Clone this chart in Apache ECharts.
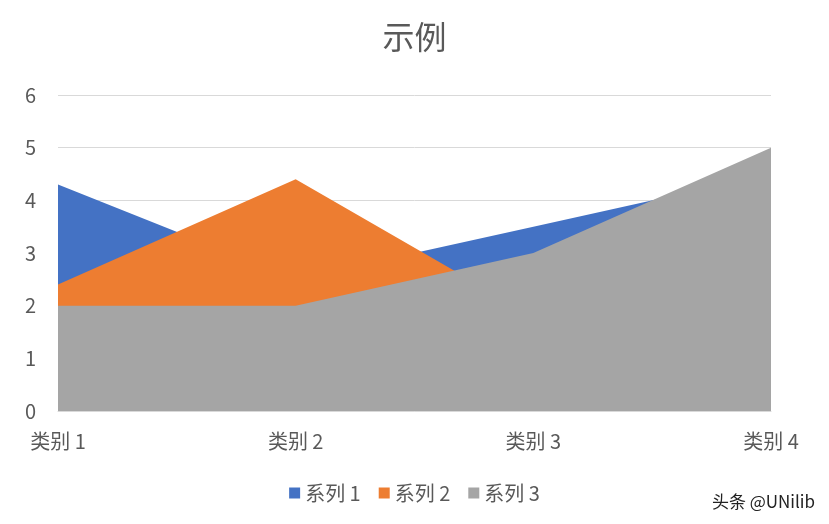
<!DOCTYPE html>
<html><head><meta charset="utf-8">
<script src="https://cdn.jsdelivr.net/npm/echarts@6/dist/echarts.min.js"></script>
<style>html,body{margin:0;padding:0;background:#fff}#main{width:829px;height:524px}</style>
</head><body><div id="main"></div>
<script>
var categories = ['类别 1', '类别 2', '类别 3', '类别 4'];
var series1 = [4.3, 2.5, 3.5, 4.5];
var series2 = [2.4, 4.4, 1.8, 2.8];
var series3 = [2, 2, 3, 5];
var names = ['系列 1', '系列 2', '系列 3'];
var colors = ['#4472C4', '#ED7D31', '#A5A5A5'];

var font = '"Noto Sans CJK SC", sans-serif';
var myChart = echarts.init(document.getElementById('main'));
function mk(i, data) {
  return {
    name: names[i], type: 'line', data: data, symbol: 'none',
    lineStyle: { width: 0 }, areaStyle: { color: colors[i], opacity: 1 },
    itemStyle: { color: colors[i] }
  };
}
var option = {
  animation: false,
  textStyle: { fontFamily: font },
  title: { text: '示例', left: 'center', top: 16, textStyle: { fontSize: 32, fontWeight: 'normal', color: '#595959', fontFamily: font } },
  legend: { data: names, bottom: 16, itemWidth: 11, itemHeight: 11, itemGap: 18, icon: 'rect',
    textStyle: { fontSize: 20, color: '#595959', fontFamily: font } },
  grid: { left: 58, right: 58, top: 95, bottom: 113 },
  xAxis: { type: 'category', data: categories, boundaryGap: false,
    axisLine: { lineStyle: { color: '#D9D9D9' } }, axisTick: { show: false },
    axisLabel: { fontSize: 20, color: '#595959', margin: 20 } },
  yAxis: { type: 'value', min: 0, max: 6, interval: 1,
    axisLine: { show: false }, axisTick: { show: false },
    splitLine: { lineStyle: { color: '#D9D9D9' } },
    axisLabel: { fontSize: 20, color: '#595959', margin: 22 } },
  graphic: [{ type: 'text', right: 14, bottom: 14, style: { text: '头条 @UNilib', fontSize: 17, fill: '#222', fontFamily: font } }],
  series: [mk(0, series1), mk(1, series2), mk(2, series3)]
};
myChart.setOption(option);
</script></body></html>
